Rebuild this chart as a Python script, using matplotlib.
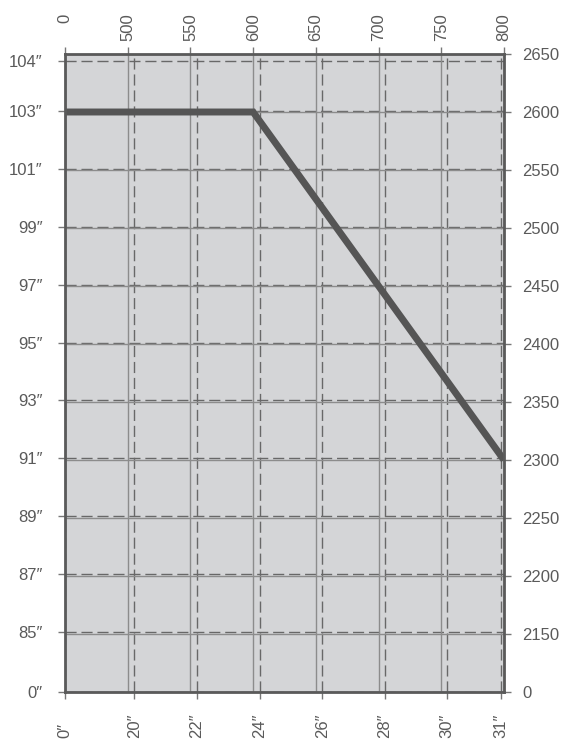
import numpy as np
import matplotlib
matplotlib.use("Agg")
import matplotlib.pyplot as plt

plt.rcParams['font.family'] = ['Liberation Sans', 'DejaVu Sans']

# tick labels (bottom / left: inches, top / right: other units)
bottom_labels = ['0″', '20″', '22″', '24″', '26″', '28″', '30″', '31″']
left_labels = ['0″', '85″', '87″', '89″', '91″', '93″', '95″', '97″', '99″', '101″', '103″', '104″']
top_vals = [0, 500, 550, 600, 650, 700, 750, 800]
right_vals = [0, 2150, 2200, 2250, 2300, 2350, 2400, 2450, 2500, 2550, 2600, 2650]

# curve (top axis value -> right axis value)
curve_x = [0, 600, 800]
curve_y = [2600, 2600, 2300]

# where the inch ticks sit on the evenly spaced grid
bottom_pos = [0, 1.105, 2.106, 3.108, 4.104, 5.095, 6.09, 6.955]
left_pos = [0, 1.04, 2.037, 3.033, 4.03, 5.027, 6.023, 7.02, 8.017, 9.013, 10.01, 10.88]

txt = '#5a5a5a'
frame = '#5a5a5a'

fig = plt.figure(figsize=(5.63, 7.44), dpi=100)
ax = fig.add_axes([65/563, 1-692/744, 439/563, 638/744])
ax.set_facecolor('#d4d5d7')
ax.set_xlim(0, 7)
ax.set_ylim(0, 11)

ax.set_xticks(bottom_pos, bottom_labels, rotation=90, va='bottom')
ax.set_yticks(left_pos, left_labels)
ax.tick_params(axis='x', length=5, width=1, color='#777777', pad=28,
               labelsize=12, labelcolor=txt)
ax.tick_params(axis='y', length=5, width=1, color='#777777', pad=11,
               labelsize=12, labelcolor=txt)
ax.grid(True, color='#686868', lw=1, ls=(0, (8, 3.5)))
for s in ax.spines.values():
    s.set_visible(False)

axt = ax.twiny()
axt.set_xlim(0, 7)
axt.set_xticks(np.arange(len(top_vals)), [str(v) for v in top_vals], rotation=90, va='top')
axt.tick_params(axis='x', length=5, width=1, color='#777777', pad=24,
                labelsize=12, labelcolor=txt)
axt.grid(True, axis='x', color='#8c8c8c', lw=1)
for s in axt.spines.values():
    s.set_visible(False)

axr = axt.twinx()
axr.set_ylim(0, 11)
axr.set_yticks(np.arange(len(right_vals)), [str(v) for v in right_vals])
axr.tick_params(axis='y', length=5, width=1, color='#777777', pad=8,
                labelsize=12, labelcolor=txt)
axr.grid(True, axis='y', color='#8c8c8c', lw=1)
for s in axr.spines.values():
    s.set_color(frame)
    s.set_linewidth(2)

px = np.interp(curve_x, top_vals, np.arange(len(top_vals)))
py = np.interp(curve_y, right_vals, np.arange(len(right_vals)))
axr.plot(px, py, color='#555555', lw=5, solid_capstyle='butt', solid_joinstyle='miter')

fig.savefig('out.png', dpi=100)
